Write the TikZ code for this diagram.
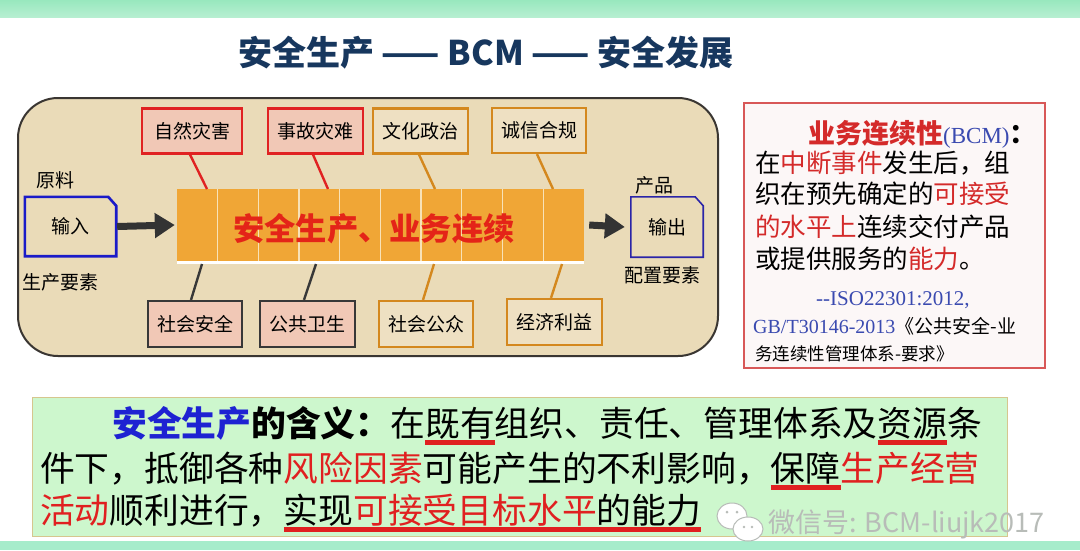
\documentclass[tikz,border=0pt]{standalone}
\usepackage{fontspec}
\usetikzlibrary{arrows.meta}
\newfontfamily\cjk{Noto Sans CJK SC}
\newfontfamily\lserif{Liberation Serif}
\definecolor{band}{HTML}{98E8BE}
\definecolor{bandlow}{HTML}{A6ECCB}
\definecolor{titleblue}{HTML}{17375E}
\definecolor{parch}{HTML}{EADBB8}
\definecolor{parchedge}{HTML}{3A3632}
\definecolor{boxred}{HTML}{E02222}
\definecolor{boxpink}{HTML}{F1C8B6}
\definecolor{boxorange}{HTML}{D4881E}
\definecolor{boxbeige}{HTML}{EEE0C2}
\definecolor{boxdark}{HTML}{383838}
\definecolor{barorange}{HTML}{F0A636}
\definecolor{barline}{HTML}{F8E2B8}
\definecolor{bartext}{HTML}{E42418}
\definecolor{inblue}{HTML}{1A1AC8}
\definecolor{outblue}{HTML}{2A24A8}
\definecolor{arrowgray}{HTML}{333333}
\definecolor{defred}{HTML}{D42A2A}
\definecolor{defblue}{HTML}{3A4AB0}
\definecolor{defborder}{HTML}{D85858}
\definecolor{deffill}{HTML}{FCF7F7}
\definecolor{mintfill}{HTML}{CDF7CD}
\definecolor{mintedge}{HTML}{D6C68E}
\definecolor{sblue}{HTML}{1E22D2}
\definecolor{tred}{HTML}{E02020}
\definecolor{wmgray}{HTML}{B8BCB8}
\newcommand\myul[1]{\setbox0=\hbox{#1}\rlap{\textcolor{tred}{\rule[-9pt]{\wd0}{5pt}}}\box0}
\begin{document}
\begin{tikzpicture}[x=1pt,y=-1pt,
  every node/.style={font=\cjk, inner sep=0pt},
  lbl/.style={font=\cjk\fontsize{19}{21}\selectfont, text=black},
  redbox/.style={lbl, draw=boxred, fill=boxpink, line width=2.2pt, minimum width=96pt, minimum height=45pt},
  orgbox/.style={lbl, draw=boxorange, fill=boxbeige, line width=2.2pt, minimum width=94pt, minimum height=45pt},
  darkbox/.style={lbl, draw=boxdark, fill=boxpink, line width=2.2pt, minimum width=94pt, minimum height=46pt},
  redcon/.style={draw=boxred, line width=2.4pt},
  orgcon/.style={draw=boxorange, line width=2.4pt},
  darkcon/.style={draw=boxdark, line width=2.4pt},
  bigarrow/.style={draw=arrowgray, line width=7pt, -{Triangle[length=20pt,width=24pt]}},
  cellline/.style={draw=barline, line width=1.2pt},
  defline/.style={anchor=base west, font=\cjk\fontsize{25.5}{28}\selectfont},
  bodyline/.style={anchor=base west, font=\cjk\fontsize{34.8}{38}\selectfont},
  wmicon/.style={draw=wmgray, fill=white, line width=1pt}]
\useasboundingbox (0,0) rectangle (1080,550);
\fill[white] (0,0) rectangle (1080,550);
% bands
\shade[top color=band, bottom color=band!70!white] (0,0) rectangle (1080,17);
\fill[bandlow] (0,541) rectangle (1080,550);
% title
\node (title) at (486,53) {\fontsize{34}{38}\selectfont\bfseries\color{titleblue}安全生产 —— BCM —— 安全发展};
% parchment panel
\draw[parchedge, fill=parch, line width=2pt, rounded corners=40pt] (18,98) rectangle (718,356);
% bar
\node[fill=barorange, minimum width=407pt, minimum height=72pt] (bar) at (380.5,225) {};
\foreach \i in {1,...,9} \draw[cellline] ([xshift={\i*40.7pt}]bar.north west) -- ([xshift={\i*40.7pt}]bar.south west);
\draw[white, line width=3pt] ([yshift=-1.5pt]bar.south west) -- ([yshift=-1.5pt]bar.south east);
\node (bartxt) at (374,229) {\fontsize{31.3}{34}\selectfont\bfseries\color{bartext}安全生产、业务连续};
% top boxes
\node[redbox, minimum width=100pt] (zr) at (192,131) {自然灾害};
\node[redbox, minimum width=95pt] (sg) at (315.5,131) {事故灾难};
\node[orgbox, minimum width=95pt] (wh) at (420.5,131) {文化政治};
\node[orgbox] (cx) at (539,130.5) {诚信合规};
% bottom boxes
\node[darkbox] (sh) at (195,324) {社会安全};
\node[darkbox, minimum width=95pt] (gw) at (307.5,324) {公共卫生};
\node[orgbox, minimum height=46pt] (sz) at (426,324) {社会公众};
\node[orgbox, minimum width=95pt, minimum height=46pt] (jj) at (554.5,322) {经济利益};
% attachment points on the bar
\coordinate (t1) at (207,189);
\coordinate (t2) at (328,189);
\coordinate (t3) at (435,189);
\coordinate (t4) at (553,189);
\coordinate (b1) at (202,264);
\coordinate (b2) at (316,264);
\coordinate (b3) at (434,264);
\coordinate (b4) at (562,264);
\draw[redcon] ([xshift=-2pt]zr.south) -- (t1);
\draw[redcon] ([xshift=-2.5pt]sg.south) -- (t2);
\draw[orgcon] ([xshift=-1.5pt]wh.south) -- (t3);
\draw[orgcon] ([xshift=-2pt]cx.south) -- (t4);
\draw[darkcon] (b1) -- ([xshift=-4pt]sh.north);
\draw[darkcon] (b2) -- ([xshift=-3.5pt]gw.north);
\draw[orgcon] (b3) -- ([xshift=-3pt]sz.north);
\draw[orgcon] (b4) -- ([xshift=-3.5pt]jj.north);
% input / output
\node[lbl, minimum width=91pt, minimum height=59pt] (in) at (70.5,226.5) {输入};
\draw[inblue, line width=2.6pt, line join=miter] (in.south west) -- (in.north west) -- ([xshift=-8pt]in.north east) -- ([yshift=-9pt]in.north east) -- (in.south east) -- cycle;
\node[lbl] (yl) at (55,180) {原料};
\node[lbl] (sc) at (61,282) {生产要素};
\node[lbl, minimum width=72pt, minimum height=60pt] (out) at (667,227) {输出};
\draw[outblue, line width=1.6pt, line join=miter] (out.south west) -- (out.north west) -- ([xshift=-8pt]out.north east) -- ([yshift=-9pt]out.north east) -- (out.south east) -- cycle;
\node[lbl] (cp) at (654,185) {产品};
\node[lbl] (pz) at (662,275) {配置要素};
\draw[bigarrow] ([xshift=1pt]in.east) -- ([xshift=-2pt]bar.west);
\draw[bigarrow] ([xshift=5pt]bar.east) -- ([xshift=-6pt]out.west);
% definition box
\node[draw=defborder, fill=deffill, line width=1.5pt, minimum width=301pt, minimum height=265pt] (def) at (894.5,235.5) {};
\node[anchor=base west] (d1) at (808,143) {\fontsize{27}{30}\selectfont\bfseries\textcolor{defred}{业务连续性}{\lserif\mdseries\fontsize{23}{25}\selectfont\textcolor{defblue}{(BCM)}}：};
\node[defline] (d2) at (755,172) {在\textcolor{defred}{中断事件}发生后，组};
\node[defline] (d3) at (755,203) {织在预先确定的\textcolor{defred}{可接受}};
\node[defline] (d4) at (755,236) {\textcolor{defred}{的水平上}连续交付产品};
\node[defline] (d5) at (755,268) {或提供服务的\textcolor{defred}{能力}。};
\node[anchor=base west, font=\lserif\fontsize{21}{23}\selectfont, text=defblue] (d6) at (816,305) {--ISO22301:2012,};
\node[anchor=base west, font=\cjk\fontsize{19}{21}\selectfont] (d7) at (753,333) {\textcolor{defblue}{\lserif\fontsize{20}{22}\selectfont GB/T30146-2013}《公共安全-业};
\node[anchor=base west, font=\cjk\fontsize{17.5}{20}\selectfont] (d8) at (755,360) {务连续性管理体系-要求》};
% meaning box
\node[draw=mintedge, fill=mintfill, line width=1pt, minimum width=975pt, minimum height=139pt] (mean) at (519.5,466.5) {};
\node[bodyline] (m1) at (112,436) {\textcolor{sblue}{\bfseries 安全生产}{\bfseries 的含义：}在\myul{既有}组织、责任、管理体系及\myul{资源}条};
\node[bodyline] (m2) at (40,481) {件下，抵御各种\textcolor{tred}{风险因素}可能产生的不利影响，\myul{保障}\textcolor{tred}{生产经营}};
\node[bodyline] (m3) at (40,523) {\textcolor{tred}{活动}顺利进行，\myul{实现\textcolor{tred}{可接受目标水平}的能力}};
% watermark
\draw[wmicon] (732,516) ellipse [x radius=15pt, y radius=13pt];
\draw[wmicon] (748,529) ellipse [x radius=15pt, y radius=12pt];
\fill[wmgray] (727,512) circle (1.5pt) (737,512) circle (1.5pt) (744,527) circle (1.3pt) (752,527) circle (1.3pt);
\node[anchor=west, font=\cjk\fontsize{27}{30}\selectfont, text=wmgray] (wm) at (768,524) {微信号: BCM-liujk2017};
\end{tikzpicture}
\end{document}
